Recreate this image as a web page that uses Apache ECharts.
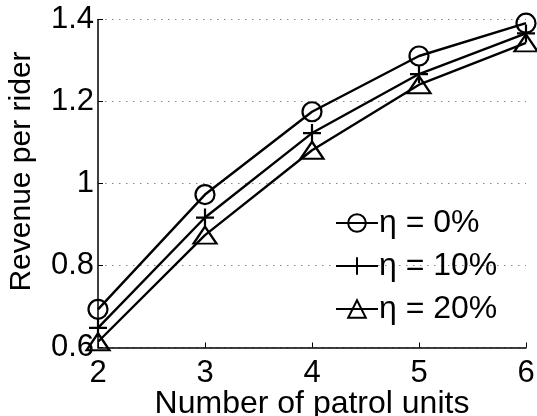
<!DOCTYPE html>
<html>
<head>
<meta charset="utf-8">
<script src="https://cdn.jsdelivr.net/npm/echarts@6/dist/echarts.min.js"></script>
<style>
  html, body { margin: 0; padding: 0; background: #fff; }
  #chart { width: 537px; height: 416px; }
</style>
</head>
<body>
<div id="chart"></div>
<script>
// Number of patrol units on the x axis
const units = [2, 3, 4, 5, 6];
// Revenue per rider for each evasion rate eta
const eta0 = [0.693, 0.973, 1.175, 1.311, 1.391];
const eta10 = [0.648, 0.917, 1.123, 1.267, 1.366];
const eta20 = [0.614, 0.874, 1.081, 1.241, 1.343];
const seriesNames = ['\u03b7 = 0%', '\u03b7 = 10%', '\u03b7 = 20%'];
const yTicks = [0.6, 0.8, 1.0, 1.2, 1.4];
const xTicks = [2, 3, 4, 5, 6];

const FONT = '"Liberation Sans", Arial, Helvetica, sans-serif';
const PLUS = 'path://M0,-1L0,1M-1,0L1,0';

function pairs(ys) {
  return units.map((u, i) => [u, ys[i]]);
}

function lineSeries(name, ys, symbol, size) {
  return {
    name: name,
    type: 'line',
    data: pairs(ys),
    symbol: symbol,
    symbolSize: size,
    showAllSymbol: true,
    clip: false,
    lineStyle: { color: '#000', width: 2.4 },
    itemStyle: { color: 'rgba(0,0,0,0)', borderColor: '#000', borderWidth: 2.2 },
    emphasis: { disabled: true },
    animation: false
  };
}

const chart = echarts.init(document.getElementById('chart'), null, { renderer: 'canvas' });
chart.setOption({
  backgroundColor: '#fff',
  animation: false,
  textStyle: { fontFamily: FONT, color: '#000' },
  grid: { left: 98, top: 19.5, width: 428, height: 328, containLabel: false, outerBoundsMode: 'none' },
  xAxis: {
    type: 'value',
    min: xTicks[0],
    max: xTicks[xTicks.length - 1],
    interval: 1,
    name: 'Number of patrol units',
    nameLocation: 'middle',
    nameGap: 41,
    nameMoveOverlap: false,
    nameTextStyle: { fontFamily: FONT, fontSize: 32, color: '#000' },
    axisLine: { show: true, lineStyle: { color: '#000', width: 1.5 } },
    axisTick: { show: true, inside: true, length: 5, lineStyle: { color: '#000', width: 1 } },
    axisLabel: { fontFamily: FONT, fontSize: 31, color: '#000', margin: 10 },
    splitLine: { show: false }
  },
  yAxis: {
    type: 'value',
    min: yTicks[0],
    max: yTicks[yTicks.length - 1],
    interval: 0.2,
    name: 'Revenue per rider',
    nameLocation: 'middle',
    nameRotate: 90,
    nameGap: 61,
    nameMoveOverlap: false,
    nameTextStyle: { fontFamily: FONT, fontSize: 30, color: '#000', padding: [0, 0, 0, 24] },
    axisLine: { show: true, lineStyle: { color: '#000', width: 1.5 } },
    axisTick: { show: true, inside: true, length: 5, lineStyle: { color: '#000', width: 1 } },
    axisLabel: {
      fontFamily: FONT, fontSize: 31, color: '#000', margin: 4, padding: [4, 0, 0, 0],
      formatter: v => String(parseFloat(v.toFixed(1)))
    },
    splitLine: { show: true, lineStyle: { color: '#888', width: 1, type: [1.5, 5.5] } }
  },
  legend: {
    orient: 'vertical',
    left: 335,
    top: 207,
    padding: 0,
    itemWidth: 42,
    itemHeight: 22,
    itemGap: 11,
    textStyle: { fontFamily: FONT, fontSize: 32, color: '#000', padding: [0, 0, 0, -4] },
    data: seriesNames
  },
  series: [
    lineSeries(seriesNames[0], eta0, 'circle', 19),
    lineSeries(seriesNames[1], eta10, PLUS, 18),
    lineSeries(seriesNames[2], eta20, 'triangle', [23, 17])
  ]
});
</script>
</body>
</html>
